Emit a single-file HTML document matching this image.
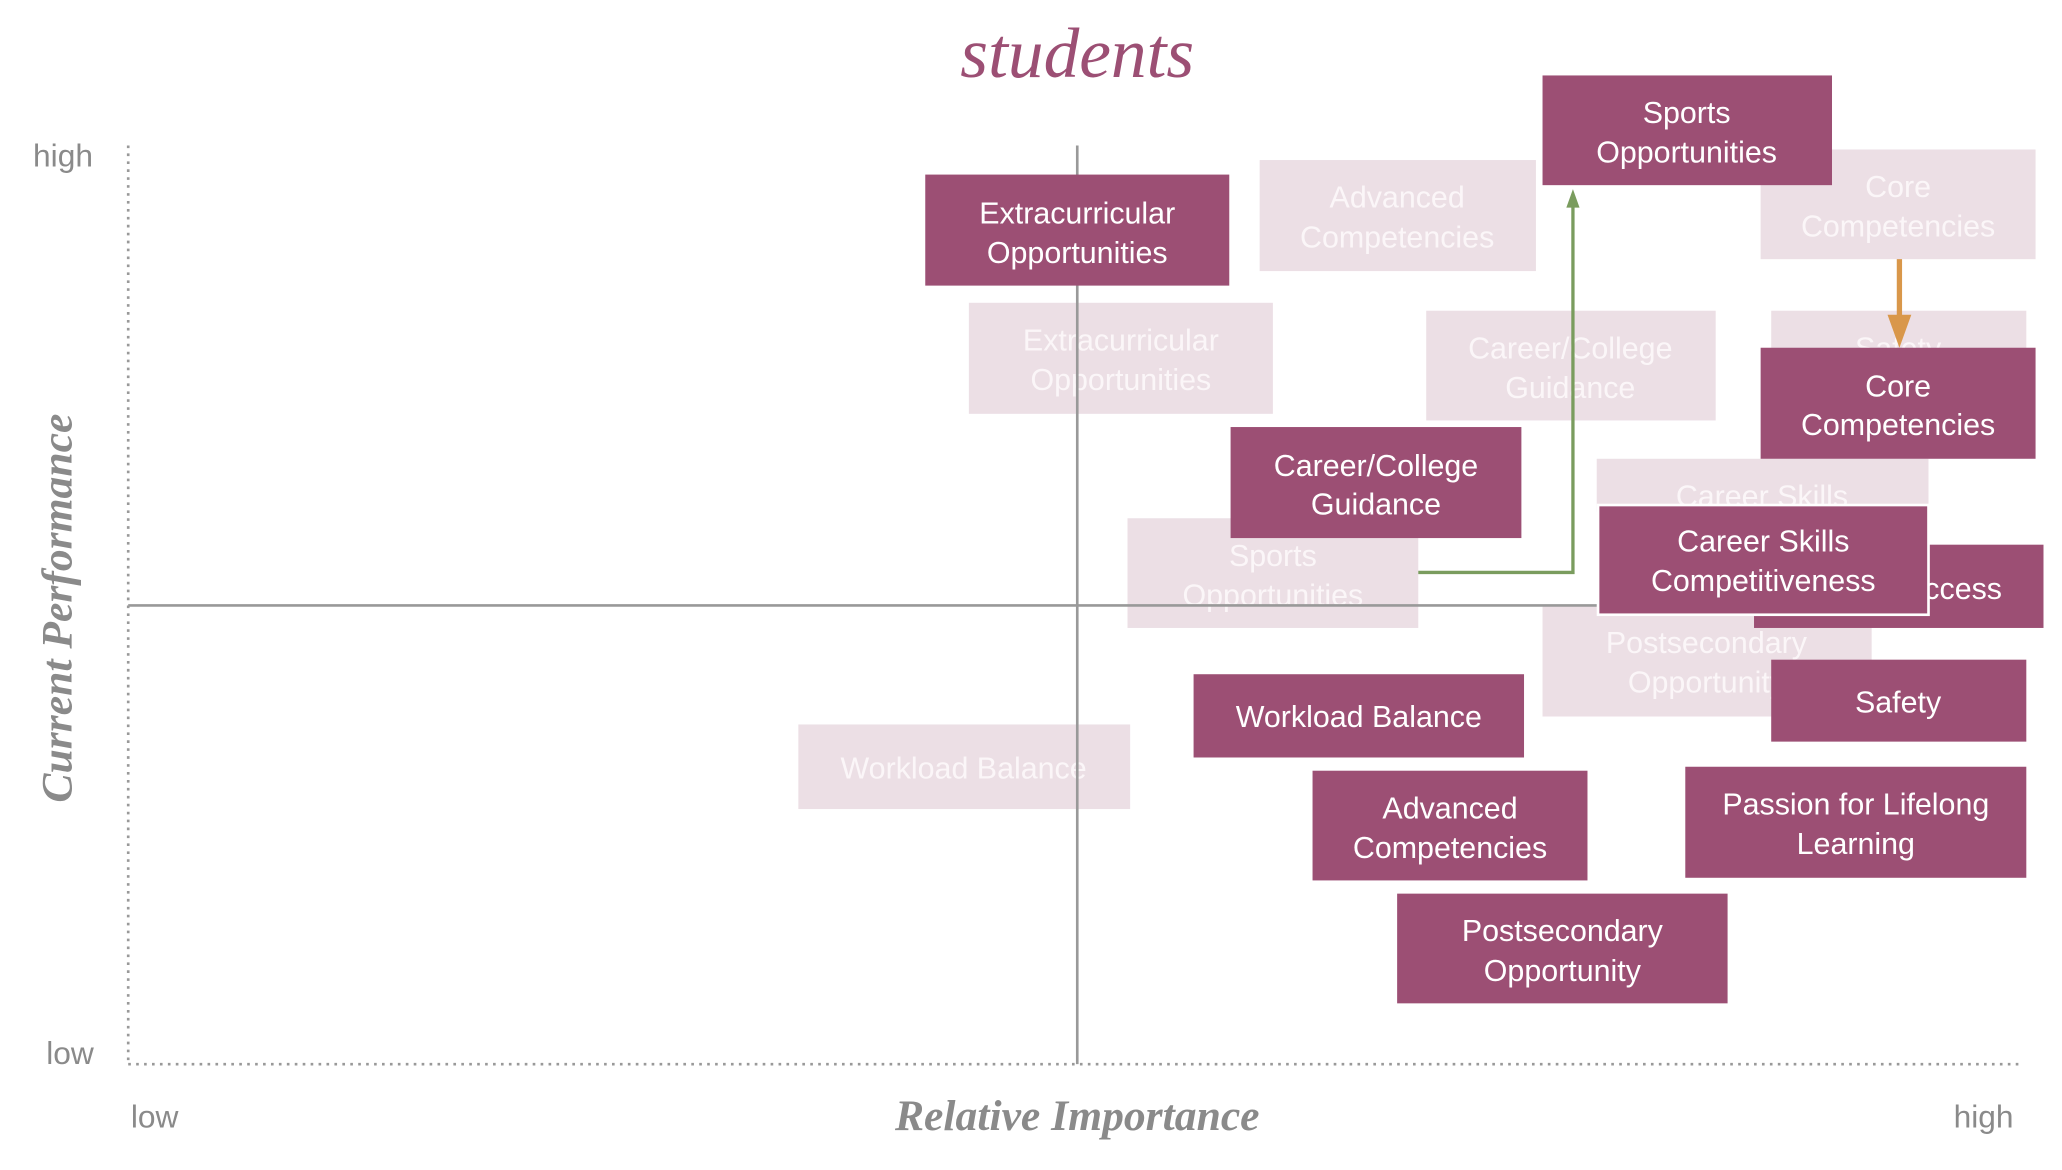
<!DOCTYPE html>
<html><head><meta charset="utf-8"><style>
html,body{margin:0;padding:0;background:#fff;}
svg{display:block}
.d{fill:#9c4f74}
.f{fill:#ecdfe5}
.t{font-family:"Liberation Sans",sans-serif;font-size:23px;fill:#fff;text-anchor:middle}
.ft{font-family:"Liberation Sans",sans-serif;font-size:23px;fill:#fbf6f8;text-anchor:middle}
.ax{font-family:"Liberation Sans",sans-serif;font-size:24px;fill:#8a8a8a}
.ser{font-family:"Liberation Serif",serif;font-style:italic;font-weight:bold;fill:#8a8a8a;font-size:33px;text-anchor:middle}
</style></head><body>
<svg width="2062" height="1170" viewBox="0 0 1560 885" xmlns="http://www.w3.org/2000/svg">
<text x="815" y="58" style="font-family:'Liberation Serif',serif;font-style:italic;font-size:54px;fill:#9c4f74;text-anchor:middle">students</text>
<text class="ax" x="25" y="126">high</text>
<text class="ax" x="35" y="805">low</text>
<text class="ax" x="99" y="853">low</text>
<text class="ax" x="1478" y="853">high</text>
<text class="ser" x="815" y="855">Relative Importance</text>
<text class="ser" transform="translate(54,460) rotate(-90)">Current Performance</text>
<line x1="97" y1="110" x2="97" y2="805" stroke="#999" stroke-width="2" stroke-dasharray="2,4"/>
<line x1="97" y1="805" x2="1530" y2="805" stroke="#999" stroke-width="2" stroke-dasharray="2,4"/>

<!-- faded -->
<rect class="f" x="953" y="121" width="209" height="84"/><text class="ft" x="1057" y="157">Advanced</text><text class="ft" x="1057" y="187">Competencies</text>
<rect class="f" x="1332" y="113" width="208" height="83"/><text class="ft" x="1436" y="149">Core</text><text class="ft" x="1436" y="179">Competencies</text>
<rect class="f" x="733" y="229" width="230" height="84"/><text class="ft" x="848" y="265">Extracurricular</text><text class="ft" x="848" y="295">Opportunities</text>
<rect class="f" x="1079" y="235" width="219" height="83"/><text class="ft" x="1188" y="271">Career/College</text><text class="ft" x="1188" y="301">Guidance</text>
<rect class="f" x="1340" y="235" width="193" height="40"/><text class="ft" x="1436" y="271">Safety</text>
<rect class="f" x="1208" y="347" width="251" height="40"/><text class="ft" x="1333" y="383">Career Skills</text>
<rect class="f" x="853" y="392" width="220" height="83"/><text class="ft" x="963" y="428">Sports</text><text class="ft" x="963" y="458">Opportunities</text>
<rect class="f" x="1167" y="458" width="249" height="84"/><text class="ft" x="1291" y="494">Postsecondary</text><text class="ft" x="1291" y="524">Opportunity</text>
<rect class="f" x="604" y="548" width="251" height="64"/><text class="ft" x="729" y="589">Workload Balance</text>

<!-- axes lines -->
<line x1="815" y1="110" x2="815" y2="805" stroke="#999" stroke-width="2"/>
<line x1="97" y1="458" x2="1210" y2="458" stroke="#999" stroke-width="2"/>
<!-- connectors -->
<polyline points="1073,433 1190,433 1190,155" fill="none" stroke="#7a9c5e" stroke-width="2.5"/>
<polygon points="1190,143 1185,157 1195,157" fill="#7a9c5e"/>
<line x1="1437" y1="196" x2="1437" y2="240" stroke="#d9974a" stroke-width="4"/>
<polygon points="1437,263 1428,238 1446,238" fill="#d9974a"/>

<!-- dark -->
<rect class="d" x="1167" y="57" width="219" height="83"/><text class="t" x="1276" y="93">Sports</text><text class="t" x="1276" y="123">Opportunities</text>
<rect class="d" x="700" y="132" width="230" height="84"/><text class="t" x="815" y="169">Extracurricular</text><text class="t" x="815" y="199">Opportunities</text>
<rect class="d" x="1332" y="263" width="208" height="84"/><text class="t" x="1436" y="300">Core</text><text class="t" x="1436" y="329">Competencies</text>
<rect class="d" x="931" y="323" width="220" height="84"/><text class="t" x="1041" y="360">Career/College</text><text class="t" x="1041" y="389">Guidance</text>
<rect class="d" x="1327" y="412" width="219" height="63"/><text class="t" x="1436" y="453">College Access</text>
<rect class="d" x="1209" y="382" width="250" height="83" stroke="#fff" stroke-width="2"/><text class="t" x="1334" y="417">Career Skills</text><text class="t" x="1334" y="447">Competitiveness</text>
<rect class="d" x="1340" y="499" width="193" height="62"/><text class="t" x="1436" y="539">Safety</text>
<rect class="d" x="903" y="510" width="250" height="63"/><text class="t" x="1028" y="550">Workload Balance</text>
<rect class="d" x="993" y="583" width="208" height="83"/><text class="t" x="1097" y="619">Advanced</text><text class="t" x="1097" y="649">Competencies</text>
<rect class="d" x="1275" y="580" width="258" height="84"/><text class="t" x="1404" y="616">Passion for Lifelong</text><text class="t" x="1404" y="646">Learning</text>
<rect class="d" x="1057" y="676" width="250" height="83"/><text class="t" x="1182" y="712">Postsecondary</text><text class="t" x="1182" y="742">Opportunity</text>
</svg>
</body></html>
